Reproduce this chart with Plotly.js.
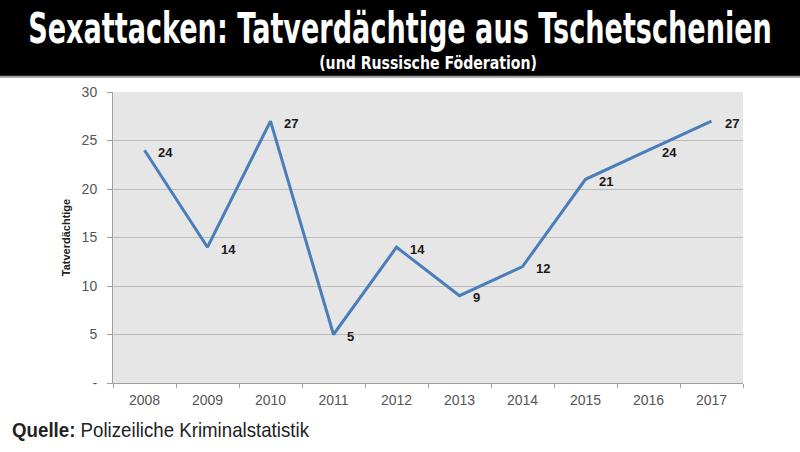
<!DOCTYPE html>
<html>
<head>
<meta charset="utf-8">
<script src="https://cdn.plot.ly/plotly-3.0.1.min.js"></script>
<style>html,body{margin:0;padding:0;background:#fff;}#chart{width:800px;height:452px;}</style>
</head>
<body>
<div id="chart"></div>
<script>
const years = ['2008','2009','2010','2011','2012','2013','2014','2015','2016','2017'];
const suspects = [24, 14, 27, 5, 14, 9, 12, 21, 24, 27];
const yTickVals = [0, 5, 10, 15, 20, 25, 30];
const yTickText = ['-', '5', '10', '15', '20', '25', '30'];
const titleText = 'Sexattacken: Tatverdächtige aus Tschetschenien';
const subtitleText = '(und Russische Föderation)';
const yTitle = 'Tatverdächtige';
const sourceLabel = 'Quelle:';
const sourceText = 'Polizeiliche Kriminalstatistik';

const boldFont = '"DejaVu Sans", sans-serif';
const arial = 'Arial, "Liberation Sans", sans-serif';

const trace = {
  x: years, y: suspects, type: 'scatter', mode: 'lines',
  line: {color: '#4a7ebb', width: 3},
  hoverinfo: 'skip', showlegend: false
};

const annotations = suspects.map((v, i) => ({
  x: i, y: v, xref: 'x', yref: 'y', text: '<b>' + String(v) + '</b>',
  showarrow: false, xanchor: 'left', yanchor: 'middle', xshift: 11, yshift: -2,
  font: {family: arial, size: 13, color: '#1a1a1a'}
}));

annotations.push({
  xref: 'paper', yref: 'paper', x: 0.5, y: 1.101, text: '<b>' + subtitleText + '</b>',
  showarrow: false, xanchor: 'center', yanchor: 'middle',
  font: {family: boldFont, size: 18, color: '#ffffff'}
});
annotations.push({
  xref: 'paper', yref: 'paper', x: -0.1635, y: -0.162,
  text: '<b>' + sourceLabel + '</b> ' + sourceText,
  showarrow: false, xanchor: 'left', yanchor: 'middle',
  font: {family: '"Liberation Sans", Arial, sans-serif', size: 20, color: '#222222'}
});

const layout = {
  width: 800, height: 452,
  margin: {l: 113, r: 57, t: 92, b: 69},
  paper_bgcolor: '#ffffff', plot_bgcolor: '#e6e6e6',
  title: {
    text: '<b>' + titleText + '</b>', x: 0.5, xanchor: 'center', y: 0.938, yanchor: 'middle',
    font: {family: boldFont, size: 42, color: '#ffffff'}
  },
  xaxis: {
    type: 'category', showgrid: false, zeroline: false,
    showline: true, linecolor: '#a0a0a0', linewidth: 1,
    ticks: 'outside', tickson: 'boundaries', ticklen: 4, tickcolor: '#a0a0a0',
    ticklabelstandoff: 4,
    tickfont: {family: arial, size: 14, color: '#555555'},
    range: [-0.5, 9.5]
  },
  yaxis: {
    range: [0, 30], tickvals: yTickVals, ticktext: yTickText,
    showgrid: true, gridcolor: '#bdbdbd', gridwidth: 1, zeroline: false,
    showline: true, linecolor: '#a0a0a0', linewidth: 1,
    ticks: 'outside', ticklen: 5, tickcolor: '#a0a0a0',
    ticklabelstandoff: 7,
    tickfont: {family: arial, size: 14, color: '#555555'},
    title: {text: '<b>' + yTitle + '</b>', standoff: 8,
      font: {family: arial, size: 11, color: '#222222'}}
  },
  shapes: [
    {type: 'rect', xref: 'paper', yref: 'paper', x0: -0.3, x1: 1.3, y0: 1.055, y1: 1.5,
      fillcolor: '#000000', line: {width: 0}, layer: 'below'},
    {type: 'line', xref: 'paper', yref: 'paper', x0: -0.3, x1: 1.3, y0: 1.052, y1: 1.052,
      line: {color: '#9a9a9a', width: 2}}
  ],
  annotations: annotations
};

function squeeze(el, targetWidth, centered) {
  if (!el) return;
  const bb = el.getBBox();
  if (!bb.width) return;
  const s = targetWidth / bb.width;
  const cx = centered ? bb.x + bb.width / 2 : bb.x;
  const prev = el.getAttribute('transform') || '';
  el.setAttribute('transform', prev + ` translate(${cx} 0) scale(${s} 1) translate(${-cx} 0)`);
}

Plotly.newPlot('chart', [trace], layout, {displayModeBar: false, staticPlot: true}).then(gd => {
  const t = gd.querySelector('text.gtitle');
  if (t) {
    const bb = t.getBBox();
    const cx = 400;
    const s = 744 / bb.width;
    t.setAttribute('transform', (t.getAttribute('transform') || '') + ` translate(${cx} 0) scale(${s} 1) translate(${-cx} 0)`);
  }
  const n = suspects.length;
  squeeze(gd.querySelector(`g.annotation[data-index="${n}"] text.annotation-text`), 218, true);
  squeeze(gd.querySelector(`g.annotation[data-index="${n + 1}"] text.annotation-text`), 298, false);
});
</script>
</body>
</html>
